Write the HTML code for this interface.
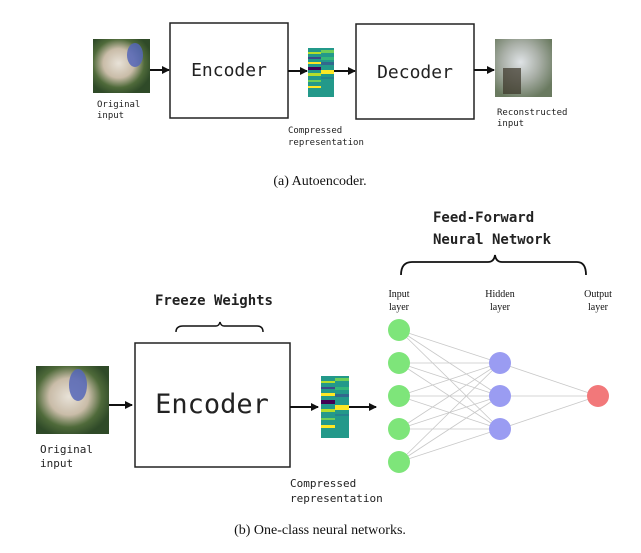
<!DOCTYPE html>
<html><head><style>
html,body{margin:0;padding:0;background:#fff;}
svg{display:block;}
.m{font-family:"DejaVu Sans Mono","Liberation Mono",monospace;fill:#222;}
.s{font-family:"Liberation Serif",serif;fill:#111;}
</style></head><body>
<svg width="641" height="553" viewBox="0 0 641 553" xmlns="http://www.w3.org/2000/svg">
<defs>
<marker id="a" markerWidth="8" markerHeight="8" refX="7" refY="4" orient="auto" markerUnits="userSpaceOnUse"><path d="M0,0 L8,4 L0,8 Z" fill="#111"/></marker>
<radialGradient id="dog" cx="45%" cy="45%" r="60%"><stop offset="0" stop-color="#e8e2d8"/><stop offset="0.45" stop-color="#c9bca8"/><stop offset="0.75" stop-color="#4f6a3a"/><stop offset="1" stop-color="#2f4a28"/></radialGradient>
<radialGradient id="rec" cx="45%" cy="40%" r="65%"><stop offset="0" stop-color="#dfe3e6"/><stop offset="0.5" stop-color="#aab0a8"/><stop offset="1" stop-color="#6a7a60"/></radialGradient>
</defs>
<rect width="641" height="553" fill="#fff"/>

<!-- TOP -->
<rect x="93" y="39" width="57" height="54" fill="url(#dog)"/>
<ellipse cx="135" cy="55" rx="8" ry="12" fill="#5566b8" opacity="0.85"/>
<line x1="150" y1="70" x2="169" y2="70" stroke="#111" stroke-width="2" marker-end="url(#a)"/>
<rect x="170" y="23" width="118" height="95" fill="#fff" stroke="#222" stroke-width="1.5"/>
<text x="229" y="76" class="m" font-size="18" text-anchor="middle" fill="#111">Encoder</text>
<line x1="288" y1="71" x2="307" y2="71" stroke="#111" stroke-width="2" marker-end="url(#a)"/>
<g>
<rect x="308" y="48" width="26" height="49" fill="#23998a"/>
<rect x="308" y="52" width="13" height="2" fill="#b5de2b"/><rect x="321" y="50" width="13" height="3" fill="#6ece58"/>
<rect x="308" y="57" width="13" height="2" fill="#3e4989"/><rect x="321" y="57" width="13" height="3" fill="#35b779"/>
<rect x="308" y="62" width="13" height="2" fill="#fde725"/><rect x="321" y="62" width="13" height="3" fill="#31688e"/>
<rect x="308" y="67" width="13" height="3" fill="#440154"/><rect x="321" y="70" width="13" height="4" fill="#fde725"/>
<rect x="308" y="73" width="13" height="3" fill="#b5de2b"/><rect x="321" y="77" width="13" height="2" fill="#26828e"/>
<rect x="308" y="80" width="13" height="2" fill="#6ece58"/><rect x="308" y="86" width="13" height="2" fill="#fde725"/>
</g>
<line x1="334" y1="71" x2="355" y2="71" stroke="#111" stroke-width="2" marker-end="url(#a)"/>
<rect x="356" y="24" width="118" height="95" fill="#fff" stroke="#222" stroke-width="1.5"/>
<text x="415" y="78" class="m" font-size="18" text-anchor="middle" fill="#111">Decoder</text>
<line x1="474" y1="70" x2="494" y2="70" stroke="#111" stroke-width="2" marker-end="url(#a)"/>
<rect x="495" y="39" width="57" height="58" fill="url(#rec)"/>
<rect x="503" y="68" width="18" height="26" fill="#3a3428" opacity="0.7"/>
<text x="97" y="107" class="m" font-size="9">Original</text>
<text x="97" y="118" class="m" font-size="9">input</text>
<text x="288" y="133" class="m" font-size="9">Compressed</text>
<text x="288" y="145" class="m" font-size="9">representation</text>
<text x="497" y="115" class="m" font-size="9">Reconstructed</text>
<text x="497" y="126" class="m" font-size="9">input</text>
<text x="320" y="185" class="s" font-size="14" text-anchor="middle">(a) Autoencoder.</text>

<!-- BOTTOM -->
<text x="433" y="222" class="m" font-size="14" font-weight="bold" fill="#111">Feed-Forward</text>
<text x="433" y="244" class="m" font-size="14" font-weight="bold" fill="#111">Neural Network</text>
<path d="M401,275 Q401,262 412,262 L488,262 Q494,262 495,255 Q496,262 502,262 L577,262 Q586,262 586,275" fill="none" stroke="#111" stroke-width="1.8"/>
<text x="214" y="305" class="m" font-size="14" font-weight="bold" text-anchor="middle" fill="#111">Freeze Weights</text>
<path d="M176,332 Q176,326 183,326 L216,326 Q219,326 220,322 Q221,326 224,326 L257,326 Q263,326 263,332" fill="none" stroke="#111" stroke-width="1.5"/>

<rect x="36" y="366" width="73" height="68" fill="url(#dog)"/>
<ellipse cx="78" cy="385" rx="9" ry="16" fill="#5566b8" opacity="0.85"/>
<line x1="109" y1="405" x2="132" y2="405" stroke="#111" stroke-width="2" marker-end="url(#a)"/>
<rect x="135" y="343" width="155" height="124" fill="#fff" stroke="#222" stroke-width="1.5"/>
<text x="212" y="413" class="m" font-size="27" text-anchor="middle" fill="#111">Encoder</text>
<line x1="290" y1="407" x2="318" y2="407" stroke="#111" stroke-width="2" marker-end="url(#a)"/>
<g>
<rect x="321" y="376" width="28" height="62" fill="#23998a"/>
<rect x="321" y="381" width="14" height="2" fill="#b5de2b"/><rect x="335" y="378" width="14" height="3" fill="#6ece58"/>
<rect x="321" y="387" width="14" height="2" fill="#3e4989"/><rect x="335" y="387" width="14" height="3" fill="#35b779"/>
<rect x="321" y="393" width="14" height="3" fill="#fde725"/><rect x="335" y="394" width="14" height="3" fill="#31688e"/>
<rect x="321" y="400" width="14" height="4" fill="#440154"/><rect x="335" y="405" width="14" height="5" fill="#fde725"/>
<rect x="321" y="409" width="14" height="3" fill="#b5de2b"/><rect x="335" y="414" width="14" height="2" fill="#26828e"/>
<rect x="321" y="418" width="14" height="2" fill="#6ece58"/><rect x="321" y="425" width="14" height="3" fill="#fde725"/>
</g>
<line x1="349" y1="407" x2="376" y2="407" stroke="#111" stroke-width="2" marker-end="url(#a)"/>

<g stroke="#c8c8c8" stroke-width="0.8">
<line x1="399" y1="330" x2="500" y2="363"/><line x1="399" y1="330" x2="500" y2="396"/><line x1="399" y1="330" x2="500" y2="429"/>
<line x1="399" y1="363" x2="500" y2="363"/><line x1="399" y1="363" x2="500" y2="396"/><line x1="399" y1="363" x2="500" y2="429"/>
<line x1="399" y1="396" x2="500" y2="363"/><line x1="399" y1="396" x2="500" y2="396"/><line x1="399" y1="396" x2="500" y2="429"/>
<line x1="399" y1="429" x2="500" y2="363"/><line x1="399" y1="429" x2="500" y2="396"/><line x1="399" y1="429" x2="500" y2="429"/>
<line x1="399" y1="462" x2="500" y2="363"/><line x1="399" y1="462" x2="500" y2="396"/><line x1="399" y1="462" x2="500" y2="429"/>
<line x1="500" y1="363" x2="598" y2="396"/><line x1="500" y1="396" x2="598" y2="396"/><line x1="500" y1="429" x2="598" y2="396"/>
</g>
<g fill="#7ee57a">
<circle cx="399" cy="330" r="11"/><circle cx="399" cy="363" r="11"/><circle cx="399" cy="396" r="11"/><circle cx="399" cy="429" r="11"/><circle cx="399" cy="462" r="11"/>
</g>
<g fill="#9a9cf2">
<circle cx="500" cy="363" r="11"/><circle cx="500" cy="396" r="11"/><circle cx="500" cy="429" r="11"/>
</g>
<circle cx="598" cy="396" r="11" fill="#f2787a"/>
<g class="s" font-size="10" text-anchor="middle" fill="#444">
<text x="399" y="297">Input</text><text x="399" y="310">layer</text>
<text x="500" y="297">Hidden</text><text x="500" y="310">layer</text>
<text x="598" y="297">Output</text><text x="598" y="310">layer</text>
</g>
<text x="40" y="453" class="m" font-size="11">Original</text>
<text x="40" y="467" class="m" font-size="11">input</text>
<text x="290" y="487" class="m" font-size="11">Compressed</text>
<text x="290" y="502" class="m" font-size="11">representation</text>
<text x="320" y="534" class="s" font-size="14" text-anchor="middle">(b) One-class neural networks.</text>
</svg>
</body></html>
